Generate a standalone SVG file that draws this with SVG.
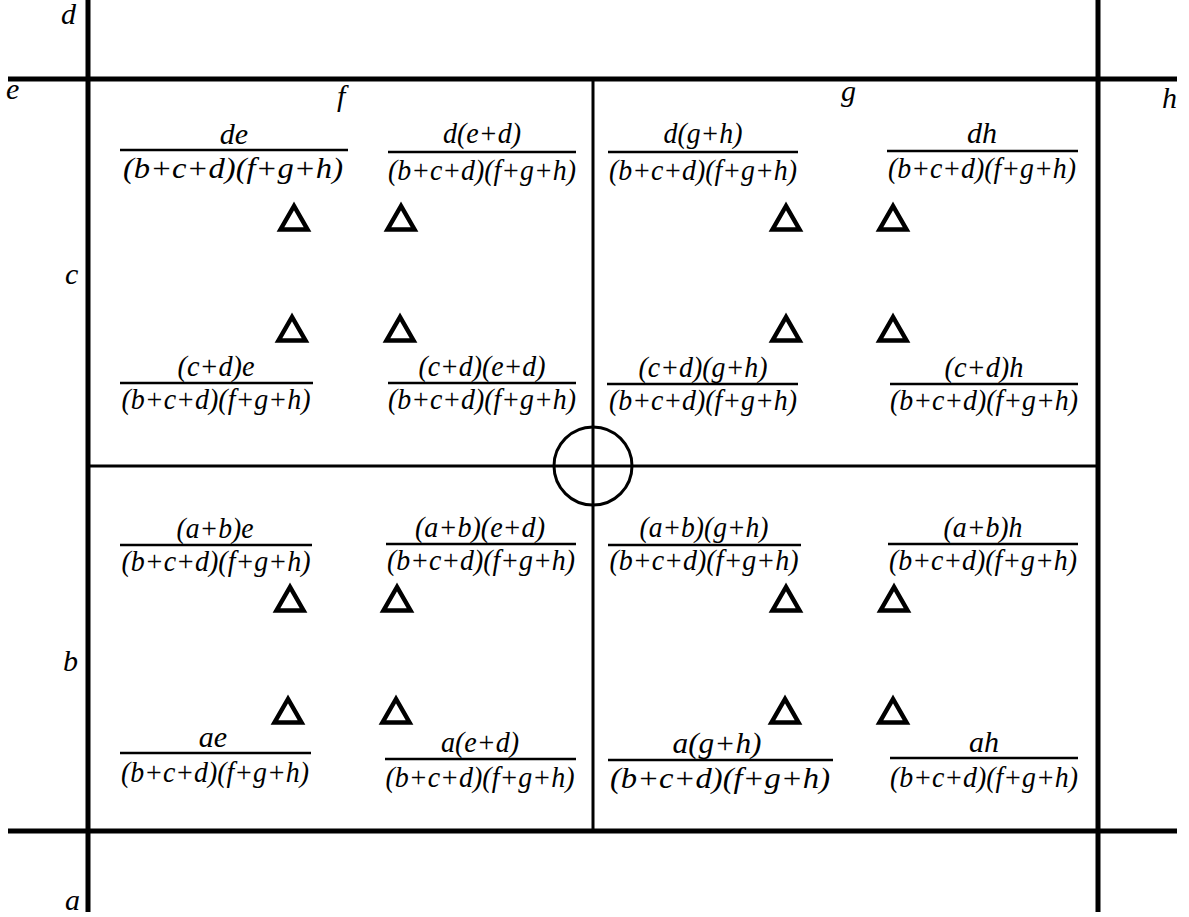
<svg xmlns="http://www.w3.org/2000/svg" width="1189" height="917" viewBox="0 0 1189 917">
<style>
  .t { font-family: "Liberation Serif", "Times New Roman", serif; font-style: italic; font-size: 30px; fill: #000; text-anchor: middle; }
  .lbl { font-family: "Liberation Serif", "Times New Roman", serif; font-style: italic; font-size: 30px; fill: #000; }
  .thick { stroke: #000; stroke-width: 5; fill: none; }
  .thin { stroke: #000; stroke-width: 3; fill: none; }
  .bar { stroke: #000; stroke-width: 2.5; }
  .tri { stroke: #000; stroke-width: 4.5; fill: none; stroke-linejoin: miter; }
</style>
<defs>
  <polygon id="tri" points="0,-11 -13.5,12.5 13.5,12.5"/>
</defs>
<rect width="1189" height="917" fill="#fff"/>

<g id="connectors">
  <line class="thick" x1="88" y1="0" x2="88" y2="912"/>
  <line class="thick" x1="1098" y1="0" x2="1098" y2="912"/>
  <line class="thick" x1="8" y1="79" x2="1177" y2="79"/>
  <line class="thick" x1="8" y1="831" x2="1177" y2="831"/>
  <line class="thin" x1="593" y1="79" x2="593" y2="831"/>
  <line class="thin" x1="88" y1="466" x2="1098" y2="466"/>
  <circle class="thin" cx="593" cy="466" r="39" stroke-width="3.5"/>
</g>

<g id="labels">
  <text class="lbl" x="61" y="24">d</text>
  <text class="lbl" x="6" y="99">e</text>
  <text class="lbl" x="337" y="106">f</text>
  <text class="lbl" x="841" y="101">g</text>
  <text class="lbl" x="1162" y="108">h</text>
  <text class="lbl" x="65" y="284">c</text>
  <text class="lbl" x="63" y="671">b</text>
  <text class="lbl" x="65" y="910">a</text>
</g>

<g id="triangles">
  <use href="#tri" class="tri" x="294" y="217"/>
  <use href="#tri" class="tri" x="401" y="217"/>
  <use href="#tri" class="tri" x="786" y="217"/>
  <use href="#tri" class="tri" x="893" y="217"/>
  <use href="#tri" class="tri" x="292" y="328"/>
  <use href="#tri" class="tri" x="400" y="328"/>
  <use href="#tri" class="tri" x="786" y="328"/>
  <use href="#tri" class="tri" x="893" y="328"/>
  <use href="#tri" class="tri" x="290" y="598"/>
  <use href="#tri" class="tri" x="397" y="598"/>
  <use href="#tri" class="tri" x="786" y="598"/>
  <use href="#tri" class="tri" x="894" y="598"/>
  <use href="#tri" class="tri" x="288" y="710"/>
  <use href="#tri" class="tri" x="396" y="710"/>
  <use href="#tri" class="tri" x="785" y="710"/>
  <use href="#tri" class="tri" x="893" y="710"/>
</g>

<g id="frac-de">
  <text class="t" x="234" y="144">de</text>
  <line class="bar" x1="120" y1="150" x2="348" y2="150"/>
  <text class="t" x="233" y="178" textLength="220" lengthAdjust="spacingAndGlyphs">(b+c+d)(f+g+h)</text>
</g>
<g id="frac-d-e-d">
  <text class="t" x="482" y="143" textLength="78" lengthAdjust="spacingAndGlyphs">d(e+d)</text>
  <line class="bar" x1="388" y1="152" x2="576" y2="152"/>
  <text class="t" x="482" y="180" textLength="188" lengthAdjust="spacingAndGlyphs">(b+c+d)(f+g+h)</text>
</g>
<g id="frac-d-g-h">
  <text class="t" x="703" y="143" textLength="79" lengthAdjust="spacingAndGlyphs">d(g+h)</text>
  <line class="bar" x1="608" y1="152" x2="798" y2="152"/>
  <text class="t" x="703" y="180" textLength="188" lengthAdjust="spacingAndGlyphs">(b+c+d)(f+g+h)</text>
</g>
<g id="frac-dh">
  <text class="t" x="982" y="143">dh</text>
  <line class="bar" x1="887" y1="151" x2="1078" y2="151"/>
  <text class="t" x="982" y="178" textLength="188" lengthAdjust="spacingAndGlyphs">(b+c+d)(f+g+h)</text>
</g>

<g id="frac-cd-e">
  <text class="t" x="216" y="376" textLength="77" lengthAdjust="spacingAndGlyphs">(c+d)e</text>
  <line class="bar" x1="120" y1="383" x2="313" y2="383"/>
  <text class="t" x="216" y="409" textLength="189" lengthAdjust="spacingAndGlyphs">(b+c+d)(f+g+h)</text>
</g>
<g id="frac-cd-ed">
  <text class="t" x="482" y="376" textLength="127" lengthAdjust="spacingAndGlyphs">(c+d)(e+d)</text>
  <line class="bar" x1="388" y1="383" x2="576" y2="383"/>
  <text class="t" x="482" y="409" textLength="188" lengthAdjust="spacingAndGlyphs">(b+c+d)(f+g+h)</text>
</g>
<g id="frac-cd-gh">
  <text class="t" x="703" y="377" textLength="129" lengthAdjust="spacingAndGlyphs">(c+d)(g+h)</text>
  <line class="bar" x1="607" y1="384" x2="798" y2="384"/>
  <text class="t" x="703" y="410" textLength="188" lengthAdjust="spacingAndGlyphs">(b+c+d)(f+g+h)</text>
</g>
<g id="frac-cd-h">
  <text class="t" x="984" y="377" textLength="79" lengthAdjust="spacingAndGlyphs">(c+d)h</text>
  <line class="bar" x1="890" y1="384" x2="1078" y2="384"/>
  <text class="t" x="984" y="410" textLength="188" lengthAdjust="spacingAndGlyphs">(b+c+d)(f+g+h)</text>
</g>

<g id="frac-ab-e">
  <text class="t" x="215" y="538" textLength="77" lengthAdjust="spacingAndGlyphs">(a+b)e</text>
  <line class="bar" x1="120" y1="545" x2="312" y2="545"/>
  <text class="t" x="216" y="571" textLength="189" lengthAdjust="spacingAndGlyphs">(b+c+d)(f+g+h)</text>
</g>
<g id="frac-ab-ed">
  <text class="t" x="480" y="537" textLength="130" lengthAdjust="spacingAndGlyphs">(a+b)(e+d)</text>
  <line class="bar" x1="386" y1="544" x2="576" y2="544"/>
  <text class="t" x="481" y="570" textLength="188" lengthAdjust="spacingAndGlyphs">(b+c+d)(f+g+h)</text>
</g>
<g id="frac-ab-gh">
  <text class="t" x="704" y="537" textLength="129" lengthAdjust="spacingAndGlyphs">(a+b)(g+h)</text>
  <line class="bar" x1="608" y1="545" x2="801" y2="545"/>
  <text class="t" x="704" y="570" textLength="189" lengthAdjust="spacingAndGlyphs">(b+c+d)(f+g+h)</text>
</g>
<g id="frac-ab-h">
  <text class="t" x="983" y="537" textLength="79" lengthAdjust="spacingAndGlyphs">(a+b)h</text>
  <line class="bar" x1="888" y1="544" x2="1078" y2="544"/>
  <text class="t" x="983" y="570" textLength="188" lengthAdjust="spacingAndGlyphs">(b+c+d)(f+g+h)</text>
</g>

<g id="frac-ae">
  <text class="t" x="213" y="747">ae</text>
  <line class="bar" x1="120" y1="753" x2="311" y2="753"/>
  <text class="t" x="215" y="782" textLength="188" lengthAdjust="spacingAndGlyphs">(b+c+d)(f+g+h)</text>
</g>
<g id="frac-a-ed">
  <text class="t" x="480" y="752" textLength="78" lengthAdjust="spacingAndGlyphs">a(e+d)</text>
  <line class="bar" x1="385" y1="759" x2="576" y2="759"/>
  <text class="t" x="480" y="787" textLength="189" lengthAdjust="spacingAndGlyphs">(b+c+d)(f+g+h)</text>
</g>
<g id="frac-a-gh">
  <text class="t" x="717" y="753" textLength="89" lengthAdjust="spacingAndGlyphs">a(g+h)</text>
  <line class="bar" x1="608" y1="760" x2="833" y2="760"/>
  <text class="t" x="720" y="788" textLength="220" lengthAdjust="spacingAndGlyphs">(b+c+d)(f+g+h)</text>
</g>
<g id="frac-ah">
  <text class="t" x="984" y="752">ah</text>
  <line class="bar" x1="890" y1="758" x2="1078" y2="758"/>
  <text class="t" x="984" y="787" textLength="188" lengthAdjust="spacingAndGlyphs">(b+c+d)(f+g+h)</text>
</g>
</svg>
